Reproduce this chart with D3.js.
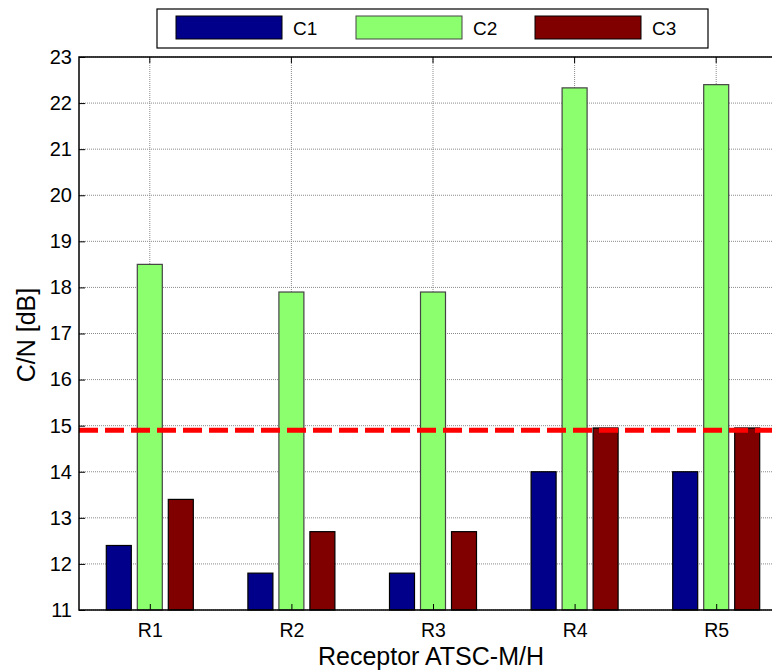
<!DOCTYPE html>
<html><head><meta charset="utf-8">
<script src="https://cdn.jsdelivr.net/npm/d3@7"></script>
<style>body{margin:0;background:#fff}svg{display:block}text{font-family:"Liberation Sans",Arial,sans-serif}</style>
</head><body><svg id="c" width="772" height="672"></svg>
<script>
const categories = ["R1","R2","R3","R4","R5"];
const seriesNames = ["C1","C2","C3"];
const c1 = [12.4, 11.8, 11.8, 14.0, 14.0];
const c2 = [18.5, 17.9, 17.9, 22.33, 22.4];
const c3 = [13.4, 12.7, 12.7, 14.95, 14.95];
const threshold = 14.9;
const yTicks = [11,12,13,14,15,16,17,18,19,20,21,22,23];
const colors = ["#00008B", "#8CFF6E", "#800000"];
const edges = ["#000", "#444", "#000"];

const series = [c1, c2, c3];
const svg = d3.select("#c");
const L = 79, T = 57, B = 610, R = 787;
const x = d3.scaleLinear().domain([0.5, 5.5]).range([L, R]);
const y = d3.scaleLinear().domain([11, 23]).range([B, T]);
const FF = "Liberation Sans, Arial, sans-serif";

// grid
const g = svg.append("g");
g.selectAll(".hg").data(yTicks).join("line")
  .attr("x1", L).attr("x2", R).attr("y1", d => y(d)).attr("y2", d => y(d))
  .attr("stroke", "#8a8a8a").attr("stroke-width", 1).attr("stroke-dasharray", "1,1");
g.selectAll(".vg").data(categories).join("line")
  .attr("x1", (d,i) => x(i+1)).attr("x2", (d,i) => x(i+1)).attr("y1", T).attr("y2", B)
  .attr("stroke", "#8a8a8a").attr("stroke-width", 1).attr("stroke-dasharray", "1,1");

// bars
const off = 31, bw = 25;
series.forEach((s, k) => {
  svg.append("g").selectAll("rect").data(s).join("rect")
    .attr("x", (d,i) => x(i+1) + (k-1)*off - bw/2)
    .attr("width", bw)
    .attr("y", d => y(d))
    .attr("height", d => y(11) - y(d))
    .attr("fill", colors[k]).attr("stroke", edges[k]).attr("stroke-width", 1.2);
});

// threshold line
svg.append("line").attr("x1", L).attr("x2", R).attr("y1", y(threshold)).attr("y2", y(threshold))
  .attr("stroke", "#FF0000").attr("stroke-width", 5).attr("stroke-dasharray", "19,7");

// axes
const yAxis = d3.axisLeft(y).tickValues(yTicks).tickSize(-6).tickPadding(7).tickFormat(d3.format("d"));
const ya = svg.append("g").attr("transform", `translate(${L},0)`).call(yAxis);
ya.select(".domain").remove();
ya.selectAll("text").attr("font-size", 20).attr("fill", "#000").style("font-family", FF);
ya.selectAll("line").attr("stroke", "#000");

const xAxis = d3.axisBottom(x).tickValues([1,2,3,4,5]).tickFormat((d) => categories[d-1]).tickSize(-6).tickPadding(12);
const xa = svg.append("g").attr("transform", `translate(0,${B})`).call(xAxis);
xa.select(".domain").remove();
xa.selectAll("text").attr("font-size", 19.5).attr("fill", "#000").style("font-family", FF)
  .attr("y", 27).attr("dy", null);
xa.selectAll("line").attr("stroke", "#000");

// top ticks
svg.append("g").selectAll("line").data([1,2,3,4,5]).join("line")
  .attr("x1", d => x(d)).attr("x2", d => x(d)).attr("y1", T).attr("y2", T+6).attr("stroke", "#000");

// frame
svg.append("rect").attr("x", L).attr("y", T).attr("width", R-L).attr("height", B-T)
  .attr("fill", "none").attr("stroke", "#000").attr("stroke-width", 1.5);

// axis labels
svg.append("text").attr("x", 431).attr("y", 665).attr("text-anchor", "middle")
  .attr("font-size", 25).text("Receptor ATSC-M/H");
svg.append("text").attr("transform", `translate(35,335) rotate(-90)`).attr("text-anchor", "middle")
  .attr("font-size", 25).text("C/N [dB]");

// legend
const lg = svg.append("g");
lg.append("rect").attr("x", 157).attr("y", 9).attr("width", 551).attr("height", 39)
  .attr("fill", "#fff").attr("stroke", "#000").attr("stroke-width", 1.2);
const lx = [176, 356, 535];
seriesNames.forEach((n, k) => {
  lg.append("rect").attr("x", lx[k]).attr("y", 16).attr("width", 106).attr("height", 23)
    .attr("fill", colors[k]).attr("stroke", edges[k]).attr("stroke-width", 1);
  lg.append("text").attr("x", lx[k] + 117).attr("y", 35).attr("font-size", 19).text(n);
});
</script></body></html>
